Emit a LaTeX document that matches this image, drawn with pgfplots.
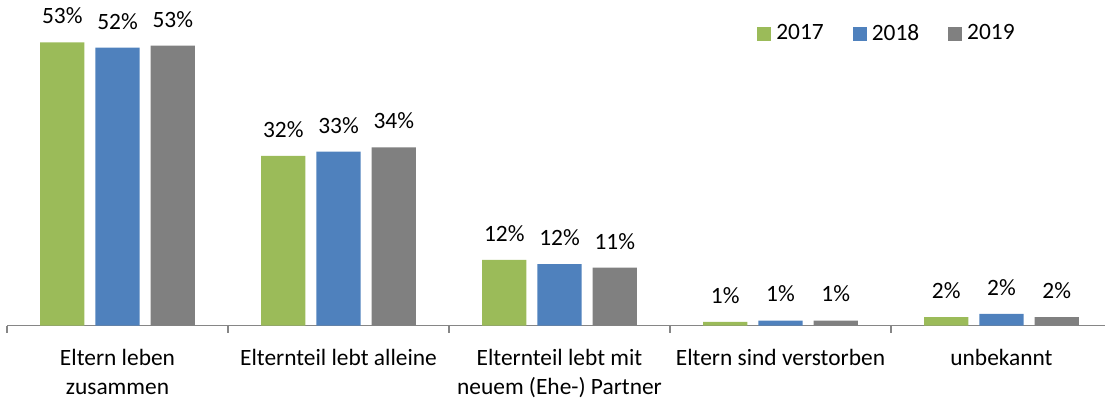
\documentclass[border=0pt]{standalone}
\usepackage{pgfplots}
\pgfplotsset{compat=1.18}
\usepackage{fontspec}
\setmainfont{Carlito}
\definecolor{c17}{RGB}{155,187,89}
\definecolor{c18}{RGB}{79,129,189}
\definecolor{c19}{RGB}{128,128,128}
\definecolor{axg}{RGB}{134,134,134}
\newcommand{\lf}{\fontsize{11.7}{14.5}\selectfont}
\begin{document}
\lf
\begin{tikzpicture}
\useasboundingbox (-3.5pt,-38.75pt) rectangle (549pt,162.75pt);
\begin{axis}[
  scale only axis, width=552.5pt, height=162.75pt,
  xmin=-0.5, xmax=4.5, ymin=0, ymax=61.4,
  axis x line=bottom, axis y line=none,
  x axis line style={-, axg, line width=0.65pt},
  clip=false,
  ybar, bar width=0.2, bar shift=0pt,
  /pgf/number format/assume math mode=true,
  xtick={0,1,2,3,4},
  xticklabels={{Eltern leben\\zusammen},{Elternteil lebt alleine},{Elternteil lebt mit\\neuem (Ehe-) Partner},{Eltern sind verstorben},{unbekannt}},
  major tick length=0pt,
  xticklabel style={align=center, anchor=north, inner sep=0pt, yshift=-11.5pt, font=\lf, text=black},
  extra x ticks={-0.5,0.5,1.5,2.5,3.5,4.5},
  extra x tick labels={},
  extra x tick style={major tick length=3.5pt, tick align=outside, tick style={axg, line width=0.65pt}},
  point meta=y,
  nodes near coords={\pgfmathprintnumber[fixed,precision=0]{\pgfplotspointmeta}\%},
  nodes near coords style={anchor=south, inner sep=0pt, yshift=9pt, font=\lf, text=black},
  legend columns=3,
  legend image code/.code={\fill[#1] (0pt,-3.5pt) rectangle (7pt,3.5pt);},
  legend style={at={(rel axis cs:0.7955,0.8955)}, anchor=center, draw=none, fill=none,
    inner sep=0pt, font=\lf, nodes={inner sep=0pt},
    /tikz/every odd column/.append style={column sep=2.5pt},
    /tikz/every even column/.append style={column sep=14.5pt}},
]
\addplot[draw=none, fill=c17] coordinates {(-0.25,53.4) (0.75,32.0) (1.75,12.4) (2.75,0.7) (3.75,1.6)};
\addplot[draw=none, fill=c18] coordinates {(0,52.4) (1,32.8) (2,11.6) (3,0.94) (4,2.2)};
\addplot[draw=none, fill=c19] coordinates {(0.25,52.8) (1.25,33.6) (2.25,10.9) (3.25,0.94) (4.25,1.6)};
\legend{2017,2018,2019}
\end{axis}
\end{tikzpicture}
\end{document}
